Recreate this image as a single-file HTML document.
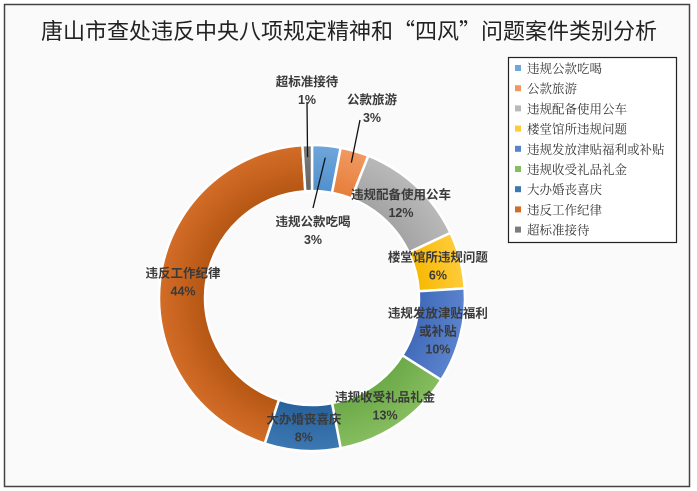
<!DOCTYPE html>
<html><head><meta charset="utf-8">
<style>
html,body{margin:0;padding:0;background:#fff;}
body{width:697px;height:491px;overflow:hidden;}
svg{display:block;}
.lbl{font-family:"Liberation Sans","Noto Sans CJK SC",sans-serif;font-weight:bold;font-size:12.5px;fill:#3a3a3a;text-anchor:middle;}
.leg{font-family:"Liberation Serif","Noto Serif CJK SC",serif;font-size:12.5px;fill:#333;}
</style></head>
<body>
<svg id="chart" width="697" height="491">
  <rect x="4.5" y="4.5" width="685" height="482" fill="#fafafa" stroke="#444" stroke-width="1.5"/>
  <text x="349" y="39" text-anchor="middle" style="font-family:'Noto Sans CJK SC',sans-serif;font-size:22px;fill:#222">唐山市查处违反中央八项规定精神和“四风”问题案件类别分析</text>
  <g id="slices"></g>
  <g id="labels"></g>
  <rect x="508.5" y="57.5" width="168" height="185" fill="#fff" stroke="#222" stroke-width="1.2"/>
  <g id="legend"></g>
</svg>
<script>
const categories = ["违规公款吃喝","公款旅游","违规配备使用公车","楼堂馆所违规问题","违规发放津贴福利或补贴","违规收受礼品礼金","大办婚丧喜庆","违反工作纪律","超标准接待"];
const values = [3,3,12,6,10,13,8,44,1];
const pctLabels = ["3%","3%","12%","6%","10%","13%","8%","44%","1%"];
const colors = ["#6fa6dc","#f09a62","#b9b9b9","#ffcb3a","#5b82cc","#86bd5f","#3d78b3","#d36d28","#7d7d7d"];
const colorsDark = ["#4f8fcc","#e57c38","#a2a2a2","#f7b800","#3f69b9","#6aa846","#26609a","#b35512","#626262"];

const NS="http://www.w3.org/2000/svg";
const cx=312, cy=298, R=153, r=107;
const total=values.reduce((a,b)=>a+b,0);
function pt(rad,frac){const a=frac*2*Math.PI;return [cx+rad*Math.sin(a),cy-rad*Math.cos(a)];}
const svg=document.getElementById('chart');
const defs=document.createElementNS(NS,'defs');svg.insertBefore(defs,svg.firstChild);
const gS=document.getElementById('slices'), gL=document.getElementById('labels'), gLeg=document.getElementById('legend');
let acc=0;
const outside={0:[313,222],1:[372,100],8:[307,82]};
values.forEach((v,i)=>{
  const f0=acc/total, f1=(acc+v)/total; acc+=v;
  const grad=document.createElementNS(NS,'radialGradient');
  grad.setAttribute('id','g'+i);grad.setAttribute('gradientUnits','userSpaceOnUse');
  grad.setAttribute('cx',cx);grad.setAttribute('cy',cy);grad.setAttribute('r',R);
  grad.innerHTML='<stop offset="0.68" stop-color="'+colorsDark[i]+'"/><stop offset="1" stop-color="'+colors[i]+'"/>';
  defs.appendChild(grad);
  const [x0,y0]=pt(R,f0),[x1,y1]=pt(R,f1),[x2,y2]=pt(r,f1),[x3,y3]=pt(r,f0);
  const large=(f1-f0)>0.5?1:0;
  const p=document.createElementNS(NS,'path');
  p.setAttribute('d',`M${x0},${y0}A${R},${R} 0 ${large} 1 ${x1},${y1}L${x2},${y2}A${r},${r} 0 ${large} 0 ${x3},${y3}Z`);
  p.setAttribute('fill','url(#g'+i+')');p.setAttribute('stroke','#fff');p.setAttribute('stroke-width','2.5');
  
  
  gS.appendChild(p);
  const mid=(f0+f1)/2;
  let lx,ly;
  if(outside[i]){
    [lx,ly]=outside[i];
    const [ax,ay]=pt(R-12,mid);
    const ln=document.createElementNS(NS,'line');
    ln.setAttribute('x1',ax);ln.setAttribute('y1',ay);
    ln.setAttribute('x2',i===0?lx:lx+(i===1?-12:0));ln.setAttribute('y2',i===0?ly-14:ly+20);
    ln.setAttribute('stroke','#111');ln.setAttribute('stroke-width','1.3');
    
    
    gL.appendChild(ln);
  } else {
    [lx,ly]=pt(130,mid); ly-=8;
  }
  const t=document.createElementNS(NS,'text');t.setAttribute('class','lbl');
  
  
  const name=categories[i];
  let lines=[name];
  if(i===4) lines=["违规发放津贴福利","或补贴"];
  lines.push(pctLabels[i]);
  if(i===4) ly-=9;
  lines.forEach((s,k)=>{const ts=document.createElementNS(NS,'tspan');ts.setAttribute('x',lx);ts.setAttribute('y',ly+k*18+4);ts.textContent=s;t.appendChild(ts);});
  gL.appendChild(t);
  const y=69+i*20.2;
  const m=document.createElementNS(NS,'rect');
  m.setAttribute('x',515);m.setAttribute('y',y-4);m.setAttribute('width',6);m.setAttribute('height',6);m.setAttribute('fill',colors[i]);
  
  
  gLeg.appendChild(m);
  const lt=document.createElementNS(NS,'text');lt.setAttribute('class','leg');
  lt.setAttribute('x',527);lt.setAttribute('y',y+4);lt.textContent=name;
  
  
  gLeg.appendChild(lt);
});
</script>
</body></html>
